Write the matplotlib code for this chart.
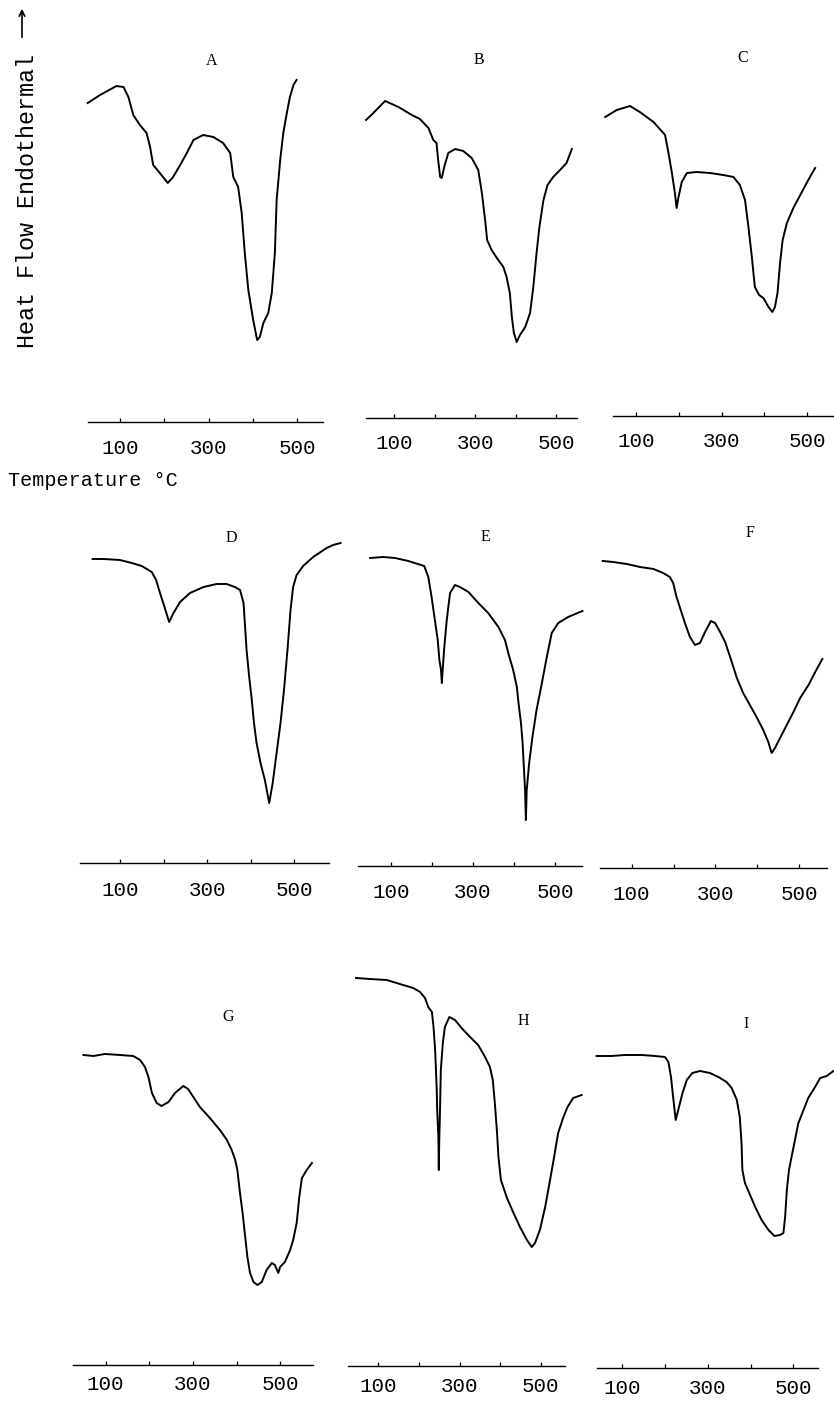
import numpy as np
import matplotlib
matplotlib.use("Agg")
import matplotlib.pyplot as plt

# DTA traces: temperature (deg C) vs heat flow (arbitrary units, endo up)
temp_A = [27, 55, 92, 108, 119, 130, 145, 160, 168, 175, 190, 208, 220, 236, 251, 266, 288, 311, 333, 349,
          356, 367, 375, 382, 390, 401, 410, 416, 424, 435, 443, 450, 454, 462, 469, 477, 484, 492, 499]
hf_A = [319, 327, 336, 335, 325, 307, 297, 289, 275, 257, 249, 239, 245, 257, 269, 282, 287, 285, 279, 269,
        245, 235, 209, 169, 132, 102, 82, 85, 99, 109, 129, 169, 222, 262, 289, 309, 325, 337, 342]

temp_B = [31, 49, 78, 111, 144, 164, 185, 197, 205, 209, 214, 218, 224, 234, 251, 271, 292, 308, 317, 325,
          330, 341, 354, 370, 378, 386, 391, 396, 403, 411, 424, 436, 444, 452, 459, 469, 479, 493, 510, 526, 539]
hf_B = [298, 305, 317, 311, 303, 299, 290, 278, 275, 258, 241, 240, 251, 265, 269, 267, 260, 248, 225, 198,
        178, 168, 160, 151, 141, 125, 101, 85, 76, 83, 91, 105, 131, 165, 191, 218, 233, 241, 248, 255, 269]

temp_C = [28, 55, 86, 109, 141, 168, 176, 184, 191, 195, 199, 207, 219, 242, 273, 304, 328, 343, 355, 363,
          371, 378, 388, 398, 410, 419, 425, 431, 437, 443, 453, 468, 488, 503, 519]
hf_C = [299, 306, 310, 304, 294, 281, 263, 243, 223, 208, 218, 234, 243, 244, 243, 241, 239, 231, 216, 189,
        159, 129, 121, 118, 109, 104, 109, 123, 153, 176, 193, 208, 224, 236, 248]

temp_D = [37, 62, 100, 127, 150, 173, 183, 192, 203, 213, 223, 238, 261, 292, 322, 345, 364, 376, 384, 387,
          391, 397, 403, 408, 414, 423, 433, 443, 451, 460, 469, 477, 485, 492, 498, 506, 521, 544, 575, 590, 607]
hf_D = [304, 304, 303, 300, 297, 291, 283, 270, 255, 241, 250, 261, 270, 276, 279, 279, 276, 273, 260, 240,
        213, 186, 163, 140, 120, 100, 83, 60, 80, 110, 140, 173, 213, 253, 276, 288, 297, 306, 315, 318, 320]

temp_E = [49, 81, 110, 142, 181, 191, 199, 207, 214, 218, 222, 224, 226, 230, 236, 244, 256, 268, 289, 313,
          337, 362, 378, 386, 398, 407, 411, 417, 421, 424, 427, 429, 431, 437, 445, 455, 468, 480, 492, 508,
          532, 567]
hf_E = [308, 309, 308, 305, 300, 289, 269, 246, 226, 206, 196, 183, 196, 219, 246, 273, 281, 279, 274, 263,
        253, 239, 226, 213, 196, 179, 163, 143, 123, 99, 76, 46, 76, 103, 129, 156, 183, 209, 233, 243,
        249, 255]

temp_F = [31, 56, 88, 120, 152, 175, 191, 199, 207, 217, 227, 239, 251, 263, 275, 289, 299, 311, 323, 335,
          351, 366, 382, 398, 414, 426, 434, 442, 454, 470, 486, 502, 522, 538, 555]
hf_F = [307, 306, 304, 301, 299, 295, 291, 285, 271, 258, 245, 231, 223, 225, 236, 247, 245, 236, 226, 211,
        190, 175, 163, 151, 138, 126, 115, 120, 130, 143, 156, 170, 183, 196, 209]

temp_G = [49, 72, 98, 133, 163, 179, 190, 198, 206, 217, 228, 244, 259, 278, 289, 301, 316, 339, 362, 378,
          389, 397, 402, 408, 414, 420, 425, 431, 439, 448, 458, 469, 481, 488, 496, 500, 511, 523, 530, 538,
          544, 550, 561, 573]
hf_G = [310, 309, 311, 310, 309, 305, 298, 288, 272, 262, 259, 263, 272, 279, 276, 268, 258, 247, 235, 225,
        215, 205, 195, 172, 152, 128, 108, 92, 83, 80, 83, 95, 102, 100, 92, 98, 103, 115, 125, 142,
        168, 187, 195, 202]

temp_H = [45, 80, 121, 153, 186, 203, 215, 223, 232, 236, 240, 242, 244, 245, 248, 249, 250, 252, 254, 259,
          264, 275, 289, 305, 326, 346, 363, 375, 382, 387, 392, 396, 402, 416, 433, 449, 466, 478, 486, 498,
          511, 523, 533, 543, 556, 566, 580, 601]
hf_H = [388, 387, 386, 382, 378, 374, 368, 359, 354, 339, 316, 296, 276, 256, 229, 196, 223, 256, 296, 323,
        339, 349, 346, 338, 329, 321, 309, 299, 286, 263, 236, 209, 186, 169, 153, 139, 126, 119, 123, 136,
        159, 186, 209, 233, 249, 259, 268, 271]

temp_I = [40, 75, 106, 146, 177, 200, 208, 214, 219, 225, 231, 241, 251, 264, 282, 305, 325, 344, 356, 368,
          375, 379, 381, 387, 397, 411, 426, 442, 456, 469, 477, 481, 485, 490, 496, 504, 512, 524, 535, 551,
          563, 578, 594]
hf_I = [312, 312, 313, 313, 312, 311, 306, 291, 271, 248, 258, 275, 288, 295, 297, 295, 291, 286, 280, 268,
        251, 225, 198, 185, 175, 161, 148, 138, 132, 133, 135, 151, 178, 198, 211, 228, 245, 258, 270, 281,
        290, 292, 297]

labels = ["A", "B", "C", "D", "E", "F", "G", "H", "I"]
temps = [temp_A, temp_B, temp_C, temp_D, temp_E, temp_F, temp_G, temp_H, temp_I]
flows = [hf_A, hf_B, hf_C, hf_D, hf_E, hf_F, hf_G, hf_H, hf_I]
# recorded temperature range of each baseline (deg C)
axis_start = [28, 31, 46, 8, 19, 24, 26, 26, 40]
axis_end = [559, 552, 561, 581, 565, 565, 576, 560, 559]
tick_marks = [100, 200, 300, 400, 500]
tick_labels = ["100", "300", "500"]

# layout in pixels: x of 0 degC, px per degC, baseline y, label offset, letter position
W, H = 834, 1403
layout = {
    "A": (75.75, 0.4425, 422, 26, 212, 61),
    "B": (353.5, 0.405, 418, 26, 479, 60),
    "C": (593.25, 0.4275, 416, 26, 743, 58),
    "D": (76.5, 0.435, 863, 28, 231, 538),
    "E": (350.0, 0.41, 866, 26, 485, 537),
    "F": (589.8, 0.419, 868, 26, 750, 533),
    "G": (62.1, 0.436, 1365, 20, 228, 1017),
    "H": (337.7, 0.406, 1366, 20, 523, 1021),
    "I": (579.5, 0.4275, 1368, 20, 746, 1024),
}

mono = "Liberation Mono"
serif = "Liberation Serif"

fig = plt.figure(figsize=(W / 100, H / 100), dpi=100)
fig.patch.set_facecolor("white")

TMAX = 620
YLO, YHI = -45, 400
for lab, t, q, t0, t1 in zip(labels, temps, flows, axis_start, axis_end):
    x0, s, base, off, lx, ly = layout[lab]
    ax = fig.add_axes([x0 / W, 1 - (base - YLO) / H, TMAX * s / W, (YHI - YLO) / H])
    ax.set_xlim(0, TMAX)
    ax.set_ylim(YLO, YHI)
    ax.axis("off")
    ax.plot(t, q, color="black", lw=1.4, solid_joinstyle="round", clip_on=False)
    ax.plot([t0, t1], [0, 0], color="black", lw=1.0)
    ax.vlines(tick_marks, 0, 4, color="black", lw=0.9)
    for tl in tick_labels:
        ax.text(float(tl), -off, tl, ha="center", va="center", fontsize=15, family=mono)
    fig.text(lx / W, 1 - ly / H, lab, ha="center", va="center", fontsize=11.5, family=serif)

fig.text(28 / W, 1 - 201 / H, "Heat Flow Endothermal", rotation=90, ha="center", va="center",
         fontsize=16.8, family=mono)
fig.text(8 / W, 1 - 481 / H, "Temperature \u00b0C", ha="left", va="center", fontsize=14.5, family=mono)
plt.annotate("", xy=(22 / W, 1 - 6 / H), xytext=(22 / W, 1 - 40 / H),
             xycoords="figure fraction", textcoords="figure fraction",
             arrowprops=dict(arrowstyle="->", lw=1.2, color="black"))

fig.savefig("out.png", dpi=100, facecolor="white")
